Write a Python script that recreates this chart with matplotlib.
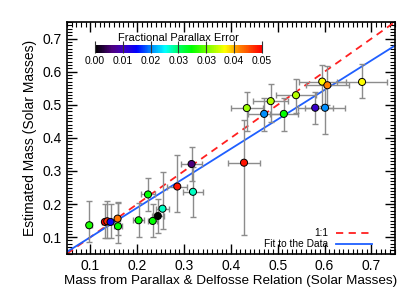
import numpy as np
import matplotlib
matplotlib.use("Agg")
import matplotlib.pyplot as plt
from matplotlib.colors import LinearSegmentedColormap
from matplotlib.ticker import MultipleLocator

plt.rcParams['font.family'] = ['Liberation Sans', 'DejaVu Sans']

# mass from parallax + Delfosse relation, with errors
mass_plx = [0.0975, 0.131, 0.136, 0.143, 0.158, 0.159, 0.203, 0.223, 0.233, 0.244,
            0.254, 0.2855, 0.316, 0.319, 0.428, 0.434, 0.471, 0.485, 0.513, 0.539,
            0.580, 0.601, 0.595, 0.606, 0.680]
mass_plx_err = [0.005, 0.006, 0.006, 0.006, 0.006, 0.008, 0.012, 0.015, 0.010, 0.013,
                0.014, 0.021, 0.022, 0.022, 0.034, 0.034, 0.035, 0.037, 0.030, 0.043,
                0.037, 0.042, 0.050, 0.046, 0.054]
# estimated mass, with asymmetric errors
mass_est = [0.136, 0.146, 0.148, 0.146, 0.156, 0.133, 0.151, 0.229, 0.149, 0.164,
            0.186, 0.253, 0.321, 0.237, 0.325, 0.490, 0.4725, 0.511, 0.4725, 0.529,
            0.491, 0.491, 0.570, 0.559, 0.569]
mass_est_lo = [0.051, 0.050, 0.050, 0.050, 0.050, 0.050, 0.050, 0.050, 0.050, 0.050,
               0.060, 0.077, 0.050, 0.076, 0.219, 0.069, 0.051, 0.062, 0.051, 0.053,
               0.048, 0.078, 0.073, 0.060, 0.048]
mass_est_hi = [0.073, 0.055, 0.060, 0.055, 0.050, 0.070, 0.051, 0.050, 0.051, 0.051,
               0.110, 0.095, 0.050, 0.075, 0.130, 0.049, 0.048, 0.051, 0.049, 0.048,
               0.048, 0.070, 0.049, 0.058, 0.053]
# fractional parallax error (colour)
frac_err = [0.030, 0.050, 0.048, 0.012, 0.044, 0.029, 0.029, 0.029, 0.029, 0.000,
            0.0225, 0.049, 0.005, 0.0225, 0.049, 0.035, 0.017, 0.036, 0.029, 0.036,
            0.009, 0.017, 0.039, 0.0435, 0.039]

fit_slope = 0.89
fit_intercept = 0.011
line_x = [0.05, 0.75]

cbar_ticks = [0.0, 0.05/6, 0.1/6, 0.025, 0.2/6, 0.25/6, 0.05]
cbar_ticklabels = ['0.00', '0.01', '0.02', '0.03', '0.03', '0.04', '0.05']

# IDL-like rainbow table
cmap = LinearSegmentedColormap.from_list('idl_rainbow', [
    (0.00, (0, 0, 0)),
    (0.10, (0.30, 0, 0.50)),
    (0.17, (0.25, 0, 0.75)),
    (0.25, (0, 0, 1)),
    (0.33, (0, 0.5, 1)),
    (0.42, (0, 1, 1)),
    (0.50, (0, 1, 0.4)),
    (0.58, (0, 1, 0)),
    (0.70, (0.6, 1, 0)),
    (0.78, (1, 1, 0)),
    (0.87, (1, 0.5, 0)),
    (1.00, (1, 0, 0)),
])

fig = plt.figure(figsize=(4.15, 2.97), dpi=100)
ax = fig.add_axes([0.1614, 0.1458, 0.790, 0.780])

# 1:1 and fit lines
ax.plot(line_x, line_x, color='#ff2020', linestyle=(0, (4, 3)), linewidth=1.3, label='1:1')
fit_y = [fit_slope * v + fit_intercept for v in line_x]
ax.plot(line_x, fit_y, color='#1f5fff', linewidth=1.3, label='Fit to the Data')

ax.errorbar(mass_plx, mass_est, xerr=mass_plx_err, yerr=[mass_est_lo, mass_est_hi],
            fmt='none', ecolor='#8c8c8c', elinewidth=1.0, capsize=2.5, capthick=1.0, zorder=2)
sc = ax.scatter(mass_plx, mass_est, c=frac_err, cmap=cmap, vmin=0, vmax=0.05,
                s=26, edgecolors='black', linewidths=0.7, zorder=3)

ax.set_xlim(0.05, 0.75)
ax.set_ylim(0.05, 0.75)
ax.xaxis.set_minor_locator(MultipleLocator(0.01))
ax.yaxis.set_minor_locator(MultipleLocator(0.01))
ax.tick_params(which='both', direction='in', top=True, right=True, labelsize=10)
ax.tick_params(which='major', length=7, width=1)
ax.tick_params(which='minor', length=3.5, width=0.8)
ax.set_xticks([0.1, 0.2, 0.3, 0.4, 0.5, 0.6, 0.7])
ax.set_xticklabels(['0.1', '0.2', '0.3', '0.4', '0.5', '0.6', '0.7'])
ax.set_yticks([0.1, 0.2, 0.3, 0.4, 0.5, 0.6, 0.7])
ax.set_yticklabels(['0.1', '0.2', '0.3', '0.4', '0.5', '0.6', '0.7'])
for s in ax.spines.values():
    s.set_linewidth(1.2)

ax.set_xlabel('Mass from Parallax & Delfosse Relation (Solar Masses)', fontsize=9.7, labelpad=2)
ax.set_ylabel('Estimated Mass (Solar Masses)', fontsize=10, labelpad=4)

ax.legend(loc='lower right', frameon=False, markerfirst=False, fontsize=7.3,
          handlelength=3.5, borderaxespad=0, borderpad=0, labelspacing=0.1,
          bbox_to_anchor=(0.93, 0.02))

# colorbar inside the plot
cax = fig.add_axes([0.229, 0.8205, 0.402, 0.028])
cb = fig.colorbar(sc, cax=cax, orientation='horizontal', ticks=cbar_ticks)
cb.set_ticklabels(cbar_ticklabels)
cb.outline.set_visible(False)
cax.tick_params(direction='in', length=8.3, width=0.8, color='#333333', labelsize=7.5, pad=2)
cax.set_title('Fractional Parallax Error', fontsize=8, pad=3)

fig.savefig('out.png', dpi=100)
